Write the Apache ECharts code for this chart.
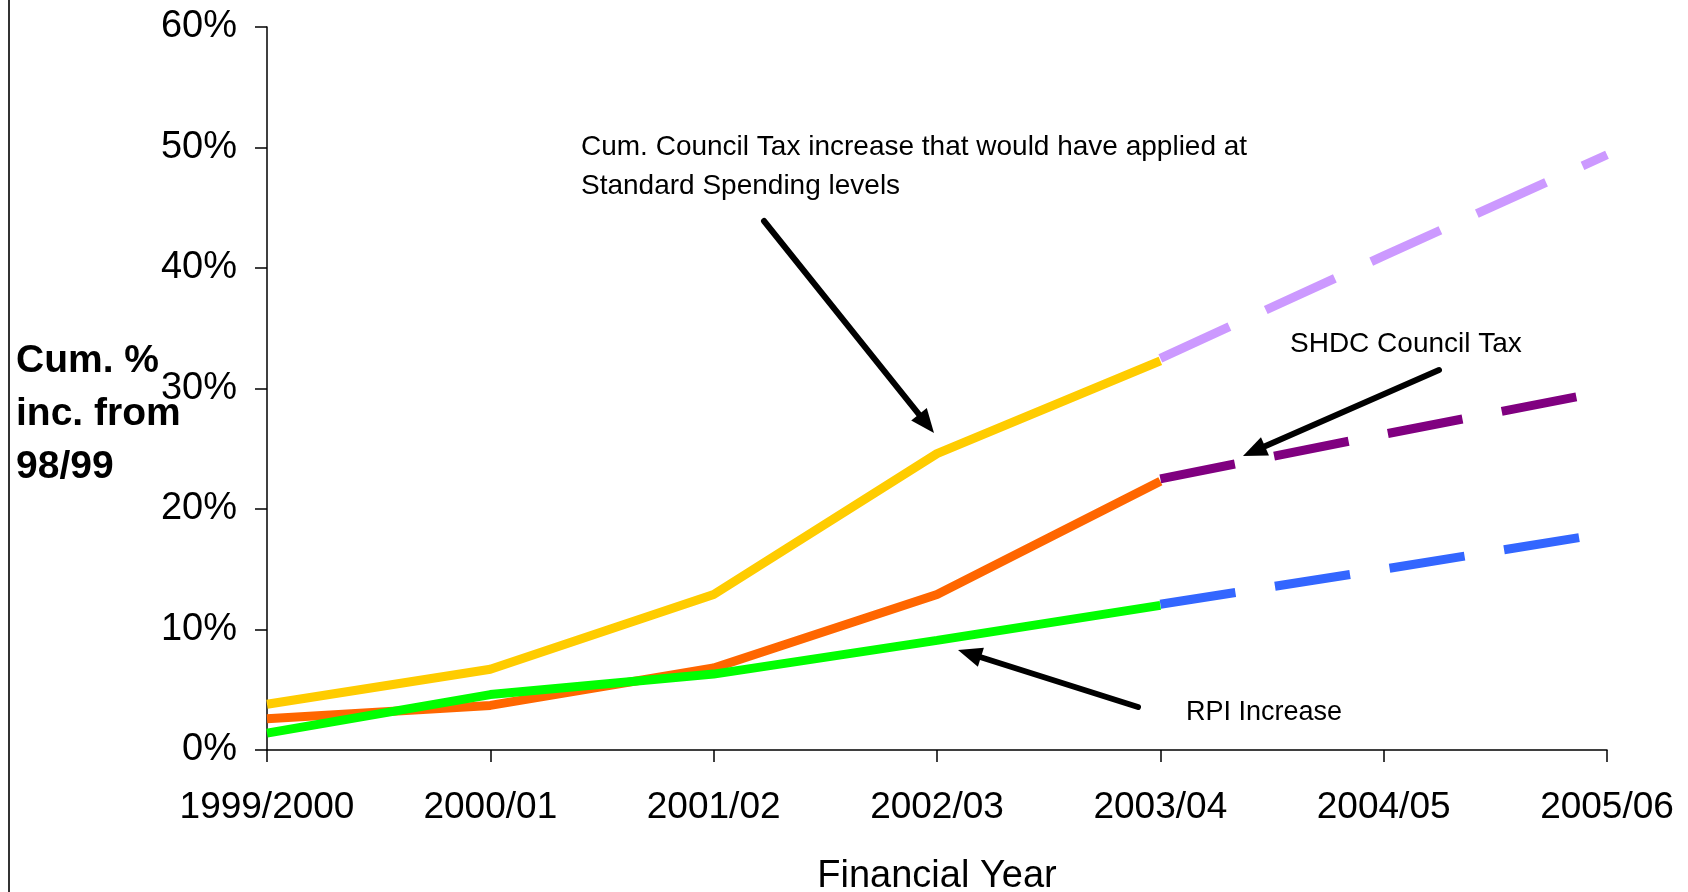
<!DOCTYPE html>
<html>
<head>
<meta charset="utf-8">
<script src="https://cdn.jsdelivr.net/npm/echarts@6/dist/echarts.min.js"></script>
<style>
  html, body { margin: 0; padding: 0; background: #fff; }
  #chart { width: 1688px; height: 892px; }
</style>
</head>
<body>
<div id="chart"></div>
<script>
// 年份
const years = ['1999/2000', '2000/01', '2001/02', '2002/03', '2003/04', '2004/05', '2005/06']
// 实际数据 (实线)
const ssaActual = [3.8, 6.7, 12.9, 24.6, 32.3, null, null]
const shdcActual = [2.6, 3.7, 6.8, 12.9, 22.3, null, null]
const rpiActual = [1.4, 4.6, 6.3, 9.1, 12.0, null, null]
// 预测数据 (虚线)
const ssaForecast = [null, null, null, null, 32.5, 41.0, 49.4]
const shdcForecast = [null, null, null, null, 22.5, 26.2, 29.8]
const rpiForecast = [null, null, null, null, 12.1, 15.0, 18.0]
// y轴刻度
const yTicks = [0, 10, 20, 30, 40, 50, 60]

const font = 'Liberation Sans, Arial, sans-serif'

// 箭头 (线 + 三角形)
function arrow(x1, y1, x2, y2) {
  const ang = Math.atan2(y2 - y1, x2 - x1)
  const len = 24, half = 10
  const bx = x2 - len * Math.cos(ang), by = y2 - len * Math.sin(ang)
  const px = -Math.sin(ang) * half, py = Math.cos(ang) * half
  return [
    { type: 'line', shape: { x1: x1, y1: y1, x2: bx, y2: by },
      style: { stroke: '#000', lineWidth: 6, lineCap: 'round' } },
    { type: 'polygon', shape: { points: [[x2, y2], [bx + px, by + py], [bx - px, by - py]] },
      style: { fill: '#000' } }
  ]
}

function label(text, left, top, size, lh, weight) {
  return { type: 'text', left: left, top: top,
    style: { text: text, font: (weight || 'normal') + ' ' + size + 'px ' + font, fill: '#000', lineHeight: lh } }
}

function solid(name, data, color, z) {
  return { name: name, type: 'line', data: data, symbol: 'none', z: z,
    lineStyle: { color: color, width: 9, cap: 'butt' } }
}
function dashed(name, data, color, z) {
  return { name: name, type: 'line', data: data, symbol: 'none', z: z,
    lineStyle: { color: color, width: 9, type: [76, 40], cap: 'butt' } }
}

const chart = echarts.init(document.getElementById('chart'))
window.addEventListener('resize', () => { chart.resize() })

const option = {
  animation: false,
  backgroundColor: '#fff',
  grid: { left: 267, right: 81, top: 27, bottom: 142, containLabel: false, outerBoundsMode: 'none' },
  xAxis: {
    type: 'category',
    data: years,
    boundaryGap: false,
    name: 'Financial Year',
    nameLocation: 'middle',
    nameGap: 108,
    nameTextStyle: { fontFamily: font, fontSize: 38, color: '#000' },
    axisLine: { lineStyle: { color: '#000', width: 1.5 } },
    axisTick: { show: true, length: 12, lineStyle: { color: '#000', width: 1.5 } },
    axisLabel: { fontFamily: font, fontSize: 37, color: '#000', margin: 39, interval: 0 },
    splitLine: { show: false }
  },
  yAxis: {
    type: 'value',
    min: yTicks[0],
    max: yTicks[yTicks.length - 1],
    interval: 10,
    axisLine: { show: true, lineStyle: { color: '#000', width: 1.5 } },
    axisTick: { show: true, length: 12, lineStyle: { color: '#000', width: 1.5 } },
    axisLabel: { fontFamily: font, fontSize: 38, color: '#000', margin: 30, formatter: '{value}%' },
    splitLine: { show: false }
  },
  series: [
    solid('SHDC Council Tax', shdcActual, '#FF6600', 2),
    solid('SSA', ssaActual, '#FFCC00', 2),
    solid('RPI Increase', rpiActual, '#00FF00', 3),
    dashed('SHDC forecast', shdcForecast, '#800080', 2),
    dashed('SSA forecast', ssaForecast, '#CC99FF', 2),
    dashed('RPI forecast', rpiForecast, '#3366FF', 2)
  ],
  graphic: [
    { type: 'line', shape: { x1: 9, y1: 0, x2: 9, y2: 892 }, style: { stroke: '#333', lineWidth: 2 } },
    label('Cum. %\ninc. from\n98/99', 16, 335, 39, 53, 'bold'),
    label('Cum. Council Tax increase that would have applied at\nStandard Spending levels', 581, 128, 28, 39),
    label('SHDC Council Tax', 1290, 328, 28, 32),
    label('RPI Increase', 1186, 697, 27, 32)
  ]
    .concat(arrow(764, 221, 934, 433))
    .concat(arrow(1439, 370, 1243, 456))
    .concat(arrow(1138, 707, 958, 650))
}
chart.setOption(option)
</script>
</body>
</html>
